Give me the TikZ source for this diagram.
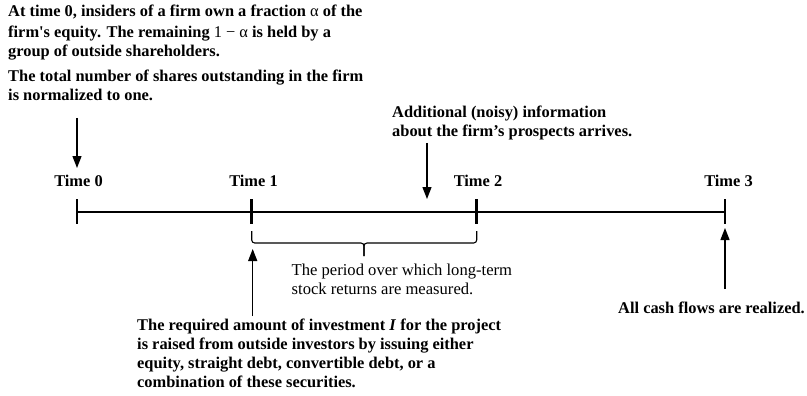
\documentclass[tikz,border=0pt]{standalone}
\usepackage{fontspec}
\setmainfont{Liberation Serif}
\newfontfamily\sqfont{Liberation Serif}[Ligatures=TeXOff]
\usetikzlibrary{arrows.meta}
\begin{document}
\begin{tikzpicture}[x=1pt,y=-1pt,
  bt/.style={font=\fontsize{16.4}{20}\selectfont\bfseries, inner sep=0pt, align=left},
  bts/.style={font=\fontsize{16.4}{19}\selectfont\bfseries, inner sep=0pt, align=left},
  rt/.style={font=\fontsize{16.6}{18.5}\selectfont, inner sep=0pt, align=left},
  arr/.style={line width=1.3pt, -{Triangle[width=9pt,length=12pt]}},
  tl/.style={line width=2.4pt},
  br/.style={line width=1.1pt, rounded corners=3pt}
]
\useasboundingbox (0,0) rectangle (807,396);
% timeline points
\coordinate (t0) at (77,212);
\coordinate (t1) at (251.5,212);
\coordinate (t2) at (476.5,212);
\coordinate (t3) at (725,212);
\draw[tl] (t0) -- (t3);
\foreach \p in {t0,t1,t2,t3} \draw[tl] (\p) ++(0,-13) -- ++(0,25);
% labels
\node[bt, anchor=base] (l0) at (78.5,186) {Time 0};
\node[bt, anchor=base] (l1) at (253.5,186) {Time 1};
\node[bt, anchor=base] (l2) at (478,186) {Time 2};
\node[bt, anchor=base] (l3) at (728.5,186) {Time 3};
% text blocks (base anchor = baseline of last line)
\node[bt, anchor=base west] (b1) at (8,57) {At time 0, insiders of a firm own a fraction {\mdseries α} of the\\firm{\sqfont '}s equity. The remaining {\mdseries 1 − α} is held by a\\group of outside shareholders.};
\node[bt, anchor=base west] (b2) at (8,101) {The total number of shares outstanding in the firm\\is normalized to one.};
\node[bt, anchor=base west] (b3) at (392,137) {Additional (noisy) information\\about the firm’s prospects arrives.};
\node[rt, anchor=base west] (b4) at (291.5,294) {The period over which long-term\\stock returns are measured.};
\node[bts, anchor=base west] (b5) at (137,387) {The required amount of investment \textit{I} for the project\\is raised from outside investors by issuing either\\equity, straight debt, convertible debt, or a\\combination of these securities.};
\node[bt, anchor=base east] (b6) at (805,313) {All cash flows are realized.};
% arrow ends
\coordinate (a0s) at (77,118);   \coordinate (a0e) at (77,168);
\coordinate (a2s) at (427,143);  \coordinate (a2e) at (427,199);
\coordinate (a1s) at (252.7,316); \coordinate (a1e) at (252.7,249);
\coordinate (a3s) at (725,289);  \coordinate (a3e) at (725,228);
\draw[arr] (a0s) -- (a0e);
\draw[arr] (a2s) -- (a2e);
\draw[arr] (a1s) -- (a1e);
\draw[arr] (a3s) -- (a3e);
% brace
\coordinate (bl) at (251.7,231);
\coordinate (bm) at (364,243);
\coordinate (bt) at (364,256);
\coordinate (bR) at (476.7,231);
\draw[br] (bl) |- (bm) -- (bt);
\draw[br] (bR) |- (bm) -- (bt);
\end{tikzpicture}
\end{document}
